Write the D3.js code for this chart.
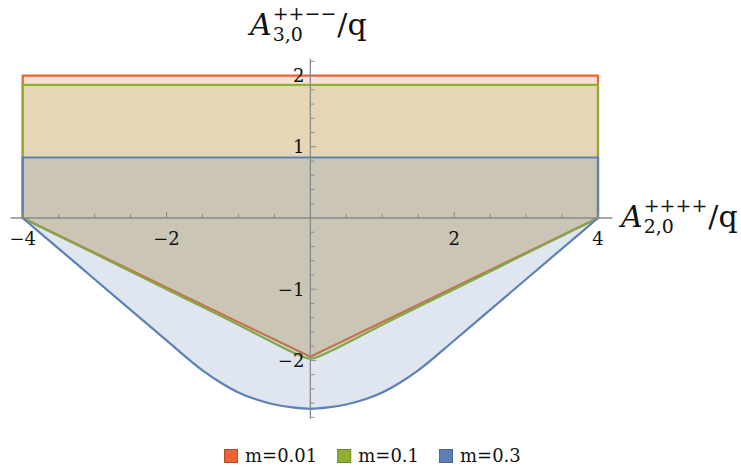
<!DOCTYPE html>
<html><head><meta charset="utf-8">
<script src="https://cdn.jsdelivr.net/npm/d3@7"></script>
<style>body{margin:0;background:#fff}svg{display:block}</style>
</head><body>
<script>
// ---- data ----
const seriesNames = ["m=0.01", "m=0.1", "m=0.3"];
const seriesColors = ["#EB6235", "#8FB032", "#5E81B5"];
const topValues = [2.0, 1.87, 0.85];
const redX = [-4, 0, 4];
const redY = [0, -1.95, 0];
const greenX = [-4, -3, -2, -1, -0.5, -0.25, 0, 0.25, 0.5, 1, 2, 3, 4];
const greenY = [0, -0.5, -1.0, -1.5, -1.76, -1.885, -1.975, -1.885, -1.76, -1.5, -1.0, -0.5, 0];
const blueX = [-4, -3.5, -3, -2.5, -2, -1.5, -1.25, -1, -0.75, -0.5, -0.25, 0, 0.25, 0.5, 0.75, 1, 1.25, 1.5, 2, 2.5, 3, 3.5, 4];
const blueY = [0, -0.43, -0.86, -1.29, -1.72, -2.14, -2.31, -2.45, -2.55, -2.62, -2.66, -2.68, -2.66, -2.62, -2.55, -2.45, -2.31, -2.14, -1.72, -1.29, -0.86, -0.43, 0];
const xMajorTicks = [-4, -2, 2, 4];
const yMajorTicks = [-2, -1, 1, 2];

const W = 741, H = 467;
const svg = d3.select("body").append("svg").attr("width", W).attr("height", H);

const x = d3.scaleLinear().domain([-4, 4]).range([22.7, 598]);
const y = d3.scaleLinear().domain([-2, 2]).range([360.4, 75.6]);

const bottoms = [
  {xs: redX, ys: redY, curve: d3.curveLinear},
  {xs: greenX, ys: greenY, curve: d3.curveMonotoneX},
  {xs: blueX, ys: blueY, curve: d3.curveMonotoneX}
];

bottoms.forEach((b, i) => {
  const pts = b.xs.map((v, j) => [v, b.ys[j]]);
  const area = d3.area().x(d => x(d[0])).y0(d => y(d[1])).y1(() => y(topValues[i])).curve(b.curve);
  svg.append("path").attr("d", area(pts))
    .attr("fill", seriesColors[i]).attr("fill-opacity", 0.2)
    .attr("stroke", seriesColors[i]).attr("stroke-width", 2.2).attr("stroke-linejoin", "round");
});

// ---- axes ----
const axisColor = "#8a8a8a";
const ax = svg.append("g");
ax.append("line").attr("x1", x(-4.17)).attr("x2", x(4.2)).attr("y1", y(0)).attr("y2", y(0))
  .attr("stroke", axisColor).attr("stroke-width", 1.3);
ax.append("line").attr("x1", x(0)).attr("x2", x(0)).attr("y1", y(2.24)).attr("y2", y(-2.82))
  .attr("stroke", axisColor).attr("stroke-width", 1.3);

const xMinor = d3.range(-4, 4.01, 0.5).filter(v => Math.abs(v) > 1e-9);
xMinor.forEach(v => {
  const major = xMajorTicks.some(t => Math.abs(t - v) < 1e-9);
  ax.append("line").attr("x1", x(v)).attr("x2", x(v)).attr("y1", y(0)).attr("y2", y(0) - (major ? 6 : 4))
    .attr("stroke", axisColor).attr("stroke-width", 1);
});
const yMinor = d3.range(-2.8, 2.21, 0.2).filter(v => Math.abs(v) > 1e-9);
yMinor.forEach(v => {
  const major = yMajorTicks.some(t => Math.abs(t - v) < 1e-6);
  ax.append("line").attr("x1", x(0)).attr("x2", x(0) + (major ? 6 : 4)).attr("y1", y(v)).attr("y2", y(v))
    .attr("stroke", axisColor).attr("stroke-width", 1);
});

const fmt = v => (v < 0 ? "\u2212" : "") + Math.abs(v);
const tickFont = "DejaVu Serif";
xMajorTicks.forEach(v => {
  svg.append("text").attr("x", x(v)).attr("y", 245).attr("text-anchor", "middle")
    .attr("font-family", tickFont).attr("font-size", 18).attr("fill", "#111").text(fmt(v));
});
yMajorTicks.forEach(v => {
  svg.append("text").attr("x", x(0) - 6).attr("y", y(v)).attr("dy", "0.35em").attr("text-anchor", "end")
    .attr("font-family", tickFont).attr("font-size", 18).attr("fill", "#111").text(fmt(v));
});

// ---- axis labels ----
function axisLabel(x0, base, sup, sub) {
  const g = svg.append("g").attr("font-family", "DejaVu Serif").attr("fill", "#111");
  const A = g.append("text").attr("x", x0).attr("y", base).attr("font-size", 30).attr("font-style", "italic").text("A");
  const aw = A.node().getComputedTextLength();
  const s1 = g.append("text").attr("x", x0 + aw + 1).attr("y", base - 15).attr("font-size", 19).text(sup);
  const s2 = g.append("text").attr("x", x0 + aw + 1).attr("y", base + 6).attr("font-size", 19).text(sub);
  const w = Math.max(s1.node().getComputedTextLength(), s2.node().getComputedTextLength());
  g.append("text").attr("x", x0 + aw + 1 + w + 1).attr("y", base).attr("font-size", 30).text("/q");
}
axisLabel(250, 35, "++\u2212\u2212", "3,0");
axisLabel(621, 227, "++++", "2,0");

// ---- legend ----
let lx = 224;
seriesNames.forEach((n, i) => {
  svg.append("rect").attr("x", lx + 0.5).attr("y", 449.5).attr("width", 13).attr("height", 13)
    .attr("fill", seriesColors[i]).attr("stroke", d3.color(seriesColors[i]).darker(0.7)).attr("stroke-width", 1);
  const t = svg.append("text").attr("x", lx + 21).attr("y", 462).attr("font-family", "DejaVu Serif")
    .attr("font-size", 18).attr("fill", "#111").text(n);
  lx += 21 + t.node().getComputedTextLength() + 20;
});
</script>
</body></html>
